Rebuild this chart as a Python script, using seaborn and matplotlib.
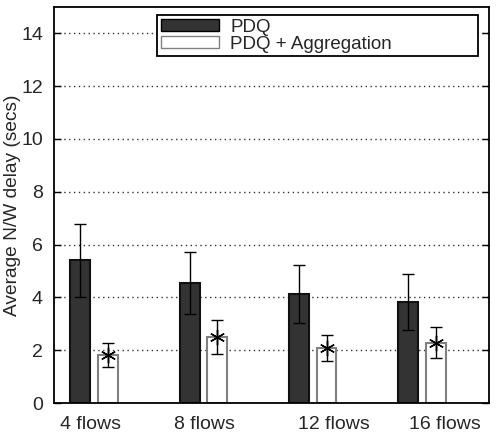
import numpy as np
import pandas as pd
import matplotlib
matplotlib.use('Agg')
import matplotlib.pyplot as plt
import seaborn as sns

# data
flows = ['4 flows', '8 flows', '12 flows', '16 flows']
series = ['PDQ', 'PDQ + Aggregation']
pdq_delay = [5.40, 4.55, 4.14, 3.83]
pdq_err = [1.37, 1.17, 1.10, 1.06]
agg_delay = [1.82, 2.50, 2.09, 2.29]
agg_err = [0.44, 0.65, 0.49, 0.60]

# layout
tick_pos = [-0.03, 1.005, 2.197, 3.21]
bar_colors = ['#333333', '#ffffff']
edge_colors = ['#111111', '#808080']

sns.set_style('ticks')
plt.rcParams['font.family'] = ['Liberation Sans', 'DejaVu Sans']

df = pd.DataFrame({
    'flows': flows * 2,
    'series': [series[0]] * 4 + [series[1]] * 4,
    'delay': pdq_delay + agg_delay,
})

fig = plt.figure(figsize=(4.96, 4.32), dpi=100)
ax = fig.add_axes([0.109, 0.067, 0.877, 0.917])

sns.barplot(data=df, x='flows', y='delay', hue='series', order=flows,
            hue_order=series, palette=bar_colors, saturation=1,
            width=0.508, gap=0.28, errorbar=None, ax=ax, zorder=2)

errs = [pdq_err, agg_err]
means = [pdq_delay, agg_delay]
bar_groups = list(ax.containers)
for i, cont in enumerate(bar_groups):
    xs = []
    for bar in cont:
        bar.set_edgecolor(edge_colors[i])
        bar.set_linewidth(1.5)
        xs.append(bar.get_x() + bar.get_width() / 2)
    ax.errorbar(xs, means[i], yerr=errs[i], fmt='none', ecolor='black',
                elinewidth=1, capsize=4, capthick=1, zorder=3)
    if i == 1:
        # the star point only shows on the white bars
        ax.plot(xs, means[i], linestyle='none', marker=(6, 2, 0), markersize=11,
                markeredgewidth=1, color='black', zorder=4)

ax.set_ylim(0, 15)
ax.set_yticks(np.arange(0, 15, 2))
ax.set_xlim(-0.367, 3.615)
ax.set_xticks(tick_pos)
ax.set_xticklabels(flows)
ax.set_xlabel('')
ax.set_ylabel('Average N/W delay (secs)', fontsize=13.8, labelpad=0)

ax.yaxis.grid(True, linestyle=(0, (1, 2.5)), color='#333333', linewidth=1, zorder=0)
ax.set_axisbelow(True)
ax.tick_params(axis='y', direction='in', length=5, width=1, right=True,
               labelsize=14, pad=8, color='black')
ax.tick_params(axis='x', length=0, labelsize=14, pad=9)
for s in ax.spines.values():
    s.set_visible(True)
    s.set_color('black')
    s.set_linewidth(1.3)

handles, labels = ax.get_legend_handles_labels()
for h, ec in zip(handles, edge_colors):
    h.set_edgecolor('black' if ec == '#111111' else ec)
leg = ax.legend(handles, labels, loc='upper left',
                bbox_to_anchor=(0.237, 0.879, 0.738, 0.101), mode='expand',
                fontsize=13.5, frameon=True, fancybox=False, framealpha=1,
                handlelength=3.1, handleheight=0.55, handletextpad=0.6,
                borderpad=0.2, labelspacing=0.0, borderaxespad=0)
leg.get_frame().set_edgecolor('black')
leg.get_frame().set_linewidth(1.3)
leg.set_zorder(5)

plt.savefig('out.png', dpi=100)
